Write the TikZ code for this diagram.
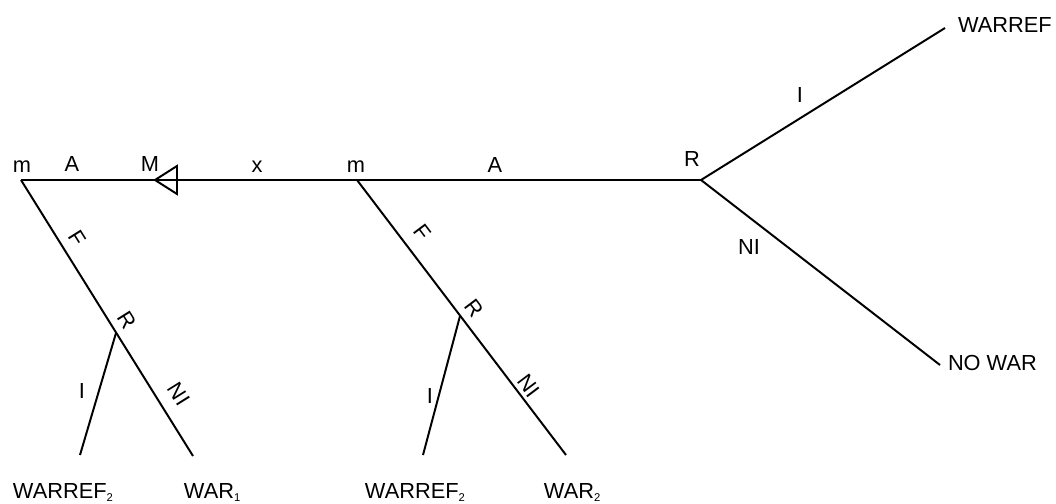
\documentclass[tikz,border=0pt]{standalone}
\usepackage{fontspec}
\setmainfont{Liberation Sans}
\usepackage{tikz}

\newcommand{\ix}[1]{\raisebox{-2.5pt}{\fontsize{8}{9}\selectfont #1}}

\begin{document}
\begin{tikzpicture}[x=0.025cm, y=-0.025cm, line width=1.4pt,
    lbl/.style={inner sep=0pt, anchor=base, font=\fontsize{15.5}{18}\selectfont},
    rlbl/.style={inner sep=0pt, font=\fontsize{15.5}{18}\selectfont}]
\useasboundingbox (0,0) rectangle (1056,504);

% Knoten
\coordinate (m1) at (21,180);
\coordinate (M) at (155,180);
\coordinate (m2) at (357,180);
\coordinate (R0) at (701,180);
\coordinate (R1) at (116,333);
\coordinate (R2) at (460,316);

% Endpunkte
\coordinate (e0) at (945,28);
\coordinate (e1) at (940,365);
\coordinate (e2) at (80,455);
\coordinate (e3) at (193,456);
\coordinate (e4) at (423,455);
\coordinate (e5) at (566,455);

% Hauptlinie mit Dreieck
\draw (m1) -- (R0);
\draw (M) -- ++(22,-14) -- ++(0,28) -- cycle;

% Aeste rechts
\draw (R0) -- (e0);
\draw (R0) -- (e1);

% Aeste links und Mitte
\draw (m1) -- (e3);
\draw (R1) -- (e2);
\draw (m2) -- (e5);
\draw (R2) -- (e4);

% Beschriftung oben
\node[lbl] (lm1) at (22,173) {m};
\node[lbl] (lA1) at (72,172) {A};
\node[lbl] (lM) at (150,172) {M};
\node[lbl] (lx) at (257,173) {x};
\node[lbl] (lm2) at (356,173) {m};
\node[lbl] (lA2) at (495,173) {A};
\node[lbl] (lR0) at (692,167) {R};
\node[lbl] (lI0) at (800,103) {I};
\node[lbl] (lNI0) at (749,255) {NI};
\node[lbl, anchor=base west] (lwarref) at (957,33) {WARREF};
\node[lbl, anchor=base west] (lnowar) at (947,370) {NO WAR};

% Beschriftung schraeg
\node[rlbl, rotate=-58] (lF1) at (77,238) {F};
\node[rlbl, rotate=-58] (lR1) at (127,320) {R};
\node[rlbl, rotate=-58] (lNI1) at (179,394) {NI};
\node[lbl] (lI1) at (82,398) {I};
\node[rlbl, rotate=-53] (lF2) at (422,232) {F};
\node[rlbl, rotate=-53] (lR2) at (474,308) {R};
\node[rlbl, rotate=-53] (lNI2) at (529,386) {NI};
\node[lbl] (lI2) at (430,403) {I};

% Ergebnisse unten
\node[lbl, anchor=base west] (o1) at (12,498) {WARREF\ix{2}};
\node[lbl, anchor=base west] (o2) at (183,498) {WAR\ix{1}};
\node[lbl, anchor=base west] (o3) at (364,498) {WARREF\ix{2}};
\node[lbl, anchor=base west] (o4) at (543,498) {WAR\ix{2}};

\end{tikzpicture}
\end{document}
